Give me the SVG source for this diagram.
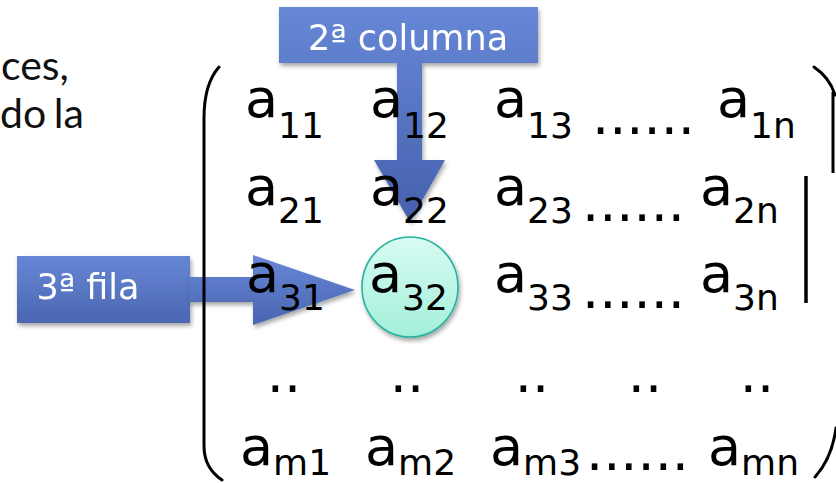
<svg xmlns="http://www.w3.org/2000/svg" width="836" height="483" viewBox="0 0 836 483">
  <style>
    .m { font-family: "DejaVu Sans", Verdana, sans-serif; font-size: 54px; fill: #000; }
    .s { font-size: 36px; }
    .lbl { font-family: "DejaVu Sans", Verdana, sans-serif; font-size: 35px; fill: #fff; }
    .side { font-family: Lato, "Open Sans", sans-serif; font-size: 41px; fill: #111; }
    .br { fill: none; stroke: #000; stroke-width: 3; stroke-linecap: round; }
  </style>
  <defs>
    <linearGradient id="gDown" gradientUnits="userSpaceOnUse" x1="0" y1="7" x2="0" y2="222">
      <stop offset="0" stop-color="#6788d7"/>
      <stop offset="1" stop-color="#4560ad"/>
    </linearGradient>
    <linearGradient id="gRight" gradientUnits="userSpaceOnUse" x1="0" y1="255" x2="0" y2="325">
      <stop offset="0" stop-color="#6787d6"/>
      <stop offset="1" stop-color="#4a65b1"/>
    </linearGradient>
    <linearGradient id="gCell" x1="0" y1="0" x2="0" y2="1">
      <stop offset="0" stop-color="#d8fbf2"/>
      <stop offset="1" stop-color="#a3efda"/>
    </linearGradient>
    <filter id="shadow" x="-20%" y="-20%" width="140%" height="150%">
      <feDropShadow dx="1.5" dy="3" stdDeviation="2.2" flood-color="#000" flood-opacity="0.35"/>
    </filter>
  </defs>

  <!-- introductory text at the left edge -->
  <g id="intro">
    <text class="side" x="1" y="80">ces,</text>
    <text class="side" x="0" y="128" word-spacing="-3">do la</text>
  </g>

  <!-- callout boxes -->
  <g id="col-label" filter="url(#shadow)">
    <rect x="279" y="7" width="259" height="56" fill="url(#gDown)"/>
    <text class="lbl" x="408" y="50" text-anchor="middle">2ª columna</text>
  </g>
  <g id="row-label" filter="url(#shadow)">
    <rect x="17" y="256" width="173" height="67" fill="url(#gRight)"/>
    <text class="lbl" x="88" y="299" text-anchor="middle">3ª fila</text>
  </g>

  <!-- arrows from the callouts to the selected element -->
  <g id="connectors" filter="url(#shadow)">
    <path d="M397,62 H422 V160 H445 L410,222 L374,160 H397 Z" fill="url(#gDown)"/>
    <path d="M189,277 H253 V255 L355,290 L253,325 V302 H189 Z" fill="url(#gRight)"/>
  </g>

  <!-- highlighted element a32 -->
  <g id="cell-a32">
    <ellipse cx="410" cy="287" rx="48" ry="50" fill="url(#gCell)" stroke="#25b39f" stroke-width="1.6" filter="url(#shadow)"/>
    <text class="m" x="369" y="292">a<tspan class="s" dy="18">32</tspan></text>
  </g>

  <!-- brackets and bars -->
  <g id="brackets">
    <path class="br" d="M219,67 Q204,84 204,118 V446 Q204,468 222,480"/>
    <path class="br" d="M814,67 Q830,78 835,95"/>
    <path class="br" d="M836,428 Q832,458 815,477"/>
    <line x1="833" y1="92" x2="833" y2="173" stroke="#000" stroke-width="3"/>
    <line x1="806" y1="176" x2="806" y2="303" stroke="#000" stroke-width="3.5"/>
  </g>

  <!-- matrix entries -->
  <g id="row-1">
    <text class="m" x="245" y="117">a<tspan class="s" dy="21">11</tspan></text>
    <text class="m" x="370" y="117">a<tspan class="s" dy="21">12</tspan></text>
    <text class="m" x="494" y="117">a<tspan class="s" dy="21">13</tspan></text>
    <text class="m" x="592" y="134">......</text>
    <text class="m" x="717" y="117">a<tspan class="s" dy="21">1n</tspan></text>
  </g>
  <g id="row-2">
    <text class="m" x="245" y="205">a<tspan class="s" dy="18">21</tspan></text>
    <text class="m" x="370" y="205">a<tspan class="s" dy="18">22</tspan></text>
    <text class="m" x="494" y="205">a<tspan class="s" dy="18">23</tspan></text>
    <text class="m" x="582" y="221">......</text>
    <text class="m" x="700" y="205">a<tspan class="s" dy="18">2n</tspan></text>
  </g>
  <g id="row-3">
    <text class="m" x="246" y="292">a<tspan class="s" dy="18">31</tspan></text>
    <text class="m" x="494" y="292">a<tspan class="s" dy="18">33</tspan></text>
    <text class="m" x="582" y="308">......</text>
    <text class="m" x="700" y="292">a<tspan class="s" dy="18">3n</tspan></text>
  </g>
  <g id="row-dots" text-anchor="middle">
    <text class="m" x="284" y="392">..</text>
    <text class="m" x="407" y="392">..</text>
    <text class="m" x="532" y="392">..</text>
    <text class="m" x="645" y="392">..</text>
    <text class="m" x="757" y="392">..</text>
  </g>
  <g id="row-m">
    <text class="m" x="240" y="465">a<tspan class="s" dy="10">m1</tspan></text>
    <text class="m" x="365" y="465">a<tspan class="s" dy="10">m2</tspan></text>
    <text class="m" x="490" y="465">a<tspan class="s" dy="10">m3</tspan></text>
    <text class="m" x="586" y="470">......</text>
    <text class="m" x="708" y="465">a<tspan class="s" dy="10">mn</tspan></text>
  </g>
</svg>
